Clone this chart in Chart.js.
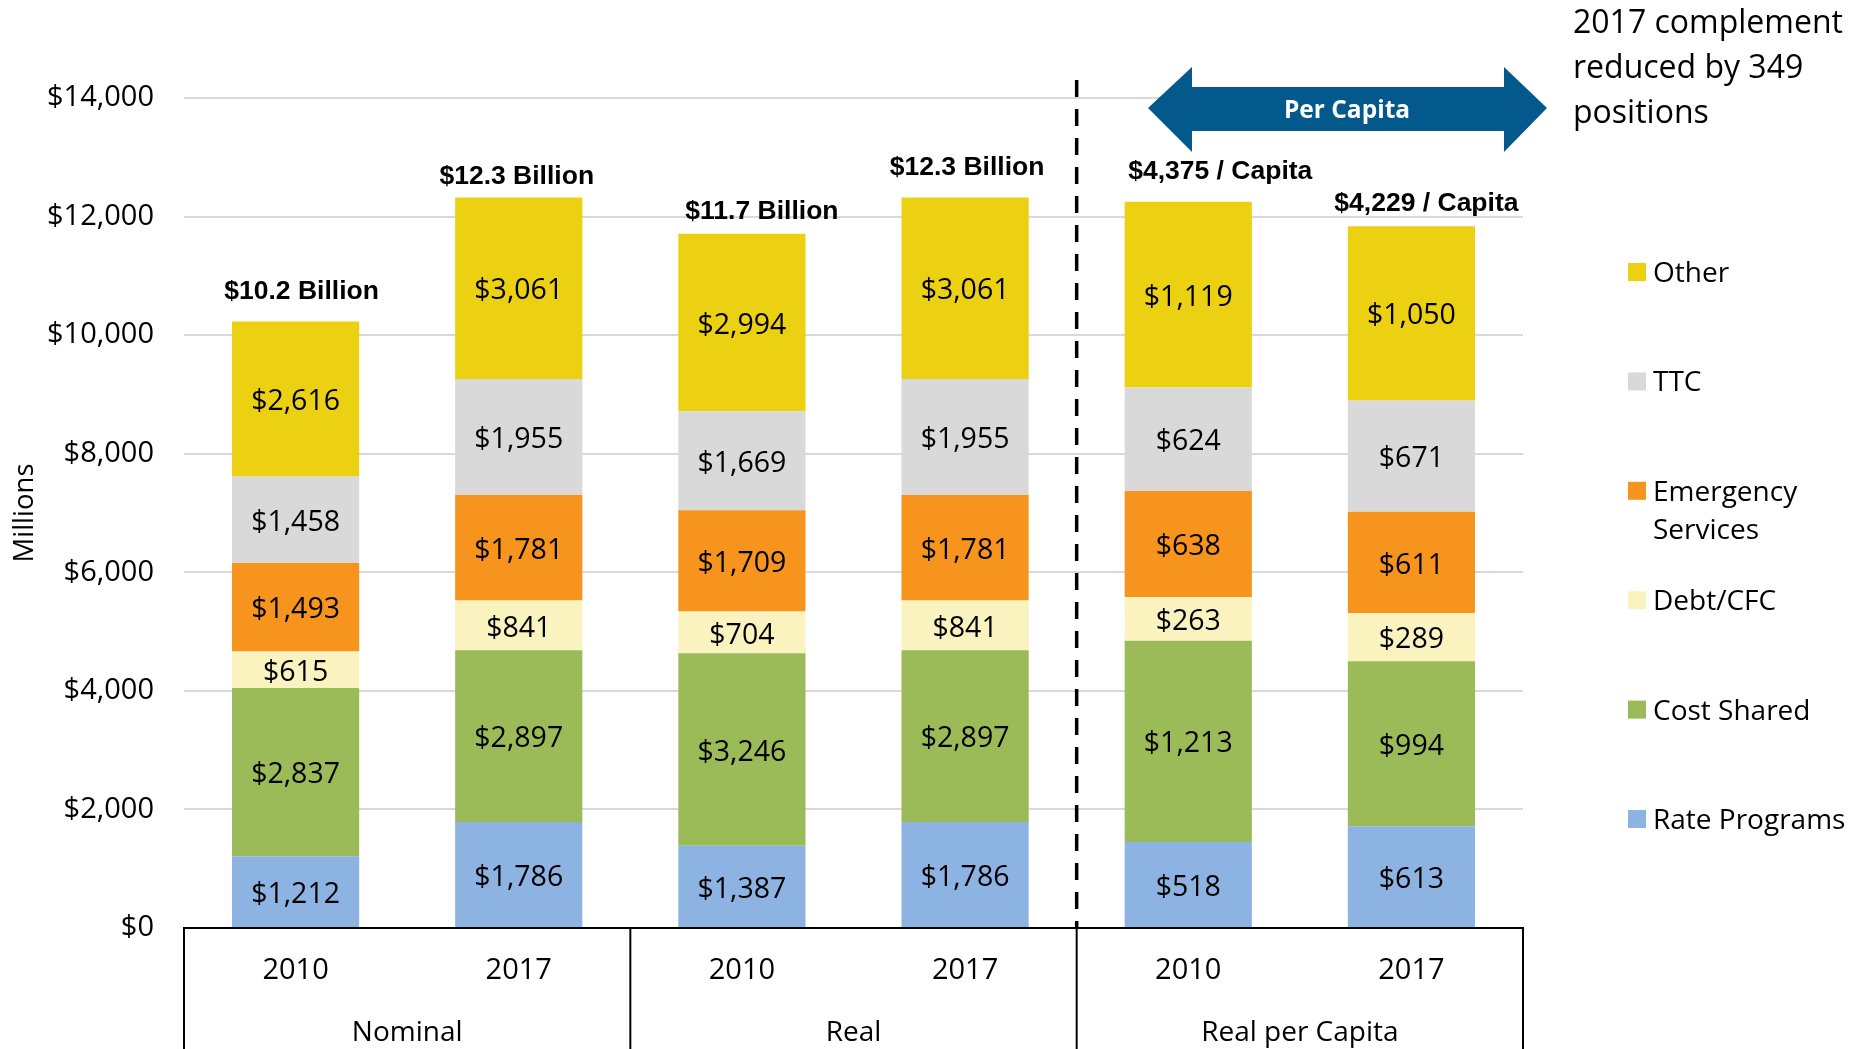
<!DOCTYPE html>
<html>
<head>
<meta charset="utf-8">
<script src="https://cdn.jsdelivr.net/npm/chart.js@4.4.0/dist/chart.umd.min.js"></script>
<style>
  html, body { margin: 0; padding: 0; background: #fff; }
  #wrap { width: 1864px; height: 1049px; }
</style>
</head>
<body>
<div id="wrap"><canvas id="myChart" width="1864" height="1049"></canvas></div>
<script>
// categories
const years = ['2010', '2017', '2010', '2017', '2010', '2017'];
const groups = ['Nominal', 'Real', 'Real per Capita'];

// series, bottom of the stack first ($ millions, last two bars in $ per capita)
const seriesNames = ['Rate Programs', 'Cost Shared', 'Debt/CFC', 'Emergency Services', 'TTC', 'Other'];
const ratePrograms = [1212, 1786, 1387, 1786, 518, 613];
const costShared   = [2837, 2897, 3246, 2897, 1213, 994];
const debtCFC      = [615, 841, 704, 841, 263, 289];
const emergency    = [1493, 1781, 1709, 1781, 638, 611];
const ttc          = [1458, 1955, 1669, 1955, 624, 671];
const other        = [2616, 3061, 2994, 3061, 1119, 1050];

const totalLabels = ['$10.2 Billion', '$12.3 Billion', '$11.7 Billion', '$12.3 Billion', '$4,375 / Capita', '$4,229 / Capita'];
const yTicks = [0, 2000, 4000, 6000, 8000, 10000, 12000, 14000];

// per capita bars are drawn on the same axis, stretched like in the original
const perCapitaScale = 2.8;
const colors = ['#8DB3E2', '#9BBB59', '#FAF3C0', '#F7941D', '#D9D9D9', '#EBD112'];
const allSeries = [ratePrograms, costShared, debtCFC, emergency, ttc, other];

// nudges for the total labels [dx, gap above bar]
const totalNudge = [[6, 30], [-2, 21], [20, 22], [2, 30], [32, 30], [15, 22]];

const FONT = '"Open Sans", "Noto Sans", sans-serif';

function money(v) {
  return '$' + v.toLocaleString('en-US');
}

const datasets = allSeries.map((vals, d) => ({
  label: seriesNames[d],
  data: vals.map((v, i) => i >= 4 ? v * perCapitaScale : v),
  raw: vals,
  backgroundColor: colors[d],
  borderWidth: 0,
  categoryPercentage: 0.57,
  barPercentage: 1
}));

const segmentLabels = {
  id: 'segmentLabels',
  afterDatasetsDraw(chart) {
    const ctx = chart.ctx;
    ctx.save();
    ctx.font = '28.5px ' + FONT;
    ctx.fillStyle = '#000';
    ctx.textAlign = 'center';
    ctx.textBaseline = 'middle';
    chart.data.datasets.forEach((ds, d) => {
      chart.getDatasetMeta(d).data.forEach((el, i) => {
        ctx.fillText(money(ds.raw[i]), el.x, (el.y + el.base) / 2 + 3);
      });
    });
    // totals above the bars
    const top = chart.getDatasetMeta(chart.data.datasets.length - 1).data;
    ctx.font = 'bold 26.5px "Liberation Sans", Arial, sans-serif';
    top.forEach((el, i) => {
      ctx.fillText(totalLabels[i], el.x + totalNudge[i][0], el.y - totalNudge[i][1]);
    });
    ctx.restore();
  }
};

const overlay = {
  id: 'overlay',
  afterDraw(chart) {
    const ctx = chart.ctx;
    const area = chart.chartArea;
    const x = chart.scales.x;
    const H = chart.height;
    ctx.save();

    // dashed separator before per capita
    const sepX = (x.getPixelForValue(3) + x.getPixelForValue(4)) / 2;
    ctx.strokeStyle = '#000';
    ctx.lineWidth = 3.5;
    ctx.setLineDash([17, 12]);
    ctx.beginPath();
    ctx.moveTo(sepX, 80);
    ctx.lineTo(sepX, area.bottom);
    ctx.stroke();
    ctx.setLineDash([]);

    // category box
    const bounds = [area.left,
      (x.getPixelForValue(1) + x.getPixelForValue(2)) / 2,
      sepX, area.right];
    ctx.lineWidth = 2;
    bounds.forEach(b => {
      ctx.beginPath();
      ctx.moveTo(b, area.bottom);
      ctx.lineTo(b, H);
      ctx.stroke();
    });
    ctx.font = '28px ' + FONT;
    ctx.fillStyle = '#000';
    ctx.textAlign = 'center';
    ctx.textBaseline = 'middle';
    groups.forEach((g, i) => {
      ctx.fillText(g, (bounds[i] + bounds[i + 1]) / 2, 1033);
    });

    // double arrow
    ctx.fillStyle = '#03588C';
    ctx.beginPath();
    ctx.moveTo(1148, 108);
    ctx.lineTo(1192, 67);
    ctx.lineTo(1192, 87);
    ctx.lineTo(1504, 87);
    ctx.lineTo(1504, 67);
    ctx.lineTo(1547, 108);
    ctx.lineTo(1504, 152);
    ctx.lineTo(1504, 131);
    ctx.lineTo(1192, 131);
    ctx.lineTo(1192, 152);
    ctx.closePath();
    ctx.fill();
    ctx.fillStyle = '#fff';
    ctx.font = 'bold 24.5px ' + FONT;
    ctx.fillText('Per Capita', 1347, 111);

    // note
    ctx.fillStyle = '#000';
    ctx.textAlign = 'left';
    ctx.font = '32px ' + FONT;
    ['2017 complement', 'reduced by 349', 'positions'].forEach((t, i) => {
      ctx.fillText(t, 1573, 24 + i * 45);
    });

    // legend, top of the stack first
    ctx.font = '28px ' + FONT;
    for (let k = 0; k < seriesNames.length; k++) {
      const d = seriesNames.length - 1 - k;
      const cy = 272 + k * 109.4;
      ctx.fillStyle = colors[d];
      ctx.fillRect(1628, cy - 9, 18, 18);
      ctx.fillStyle = '#000';
      const lines = seriesNames[d] === 'Emergency Services' ? ['Emergency', 'Services'] : [seriesNames[d]];
      lines.forEach((t, j) => ctx.fillText(t, 1653, cy + 2 + j * 38));
    }
    ctx.restore();
  }
};

function draw() {
  new Chart(document.getElementById('myChart'), {
    type: 'bar',
    data: { labels: years, datasets: datasets },
    options: {
      responsive: false,
      animation: false,
      devicePixelRatio: 1,
      layout: { padding: { top: 98, right: 341, left: 0, bottom: 0 } },
      plugins: { legend: { display: false }, tooltip: { enabled: false } },
      scales: {
        x: {
          stacked: true,
          grid: { display: false, drawTicks: false },
          border: { display: true, color: '#000', width: 2 },
          ticks: { color: '#000', font: { family: FONT, size: 29 }, padding: 25 },
          afterFit: s => { s.height = 121; }
        },
        y: {
          stacked: true,
          min: 0,
          max: 14000,
          afterBuildTicks: s => { s.ticks = yTicks.map(v => ({ value: v })); },
          ticks: { color: '#000', font: { family: FONT, size: 29 }, padding: 30, callback: v => money(v) },
          grid: { color: '#D9D9D9', lineWidth: 2, drawTicks: false },
          border: { display: false },
          title: { display: true, text: 'Millions', color: '#000', font: { family: FONT, size: 27.5 }, padding: { top: 9, bottom: 0 } },
          afterFit: s => { s.width = 184; }
        }
      }
    },
    plugins: [segmentLabels, overlay]
  });
}

Promise.all([
  document.fonts.load('27px "Open Sans"'),
  document.fonts.load('bold 24px "Open Sans"'),
  document.fonts.load('bold 26px "Liberation Sans"')
]).then(draw, draw);
</script>
</body>
</html>
